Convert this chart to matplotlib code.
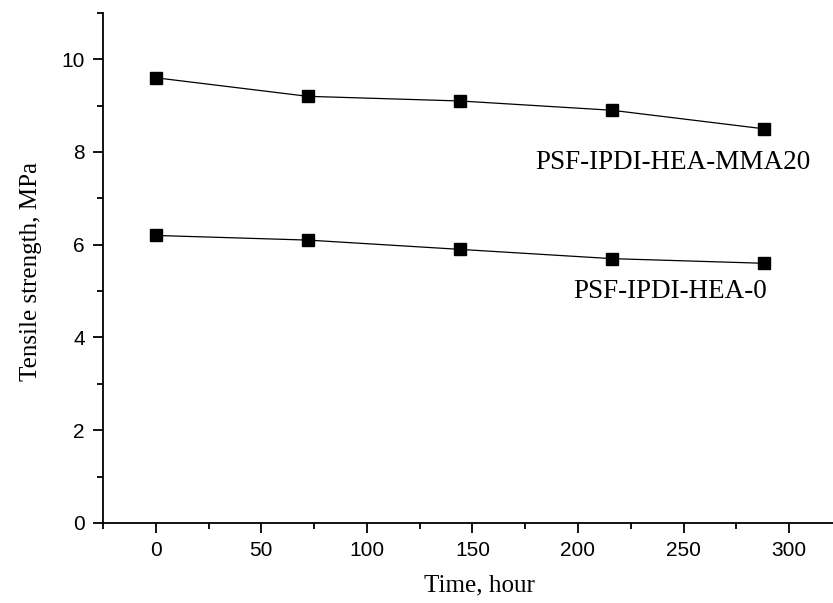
import matplotlib.pyplot as plt
from matplotlib.ticker import MultipleLocator

# data
time_h = [0, 72, 144, 216, 288]
mma20 = [9.6, 9.2, 9.1, 8.9, 8.5]
hea0 = [6.2, 6.1, 5.9, 5.7, 5.6]
labels = ['PSF-IPDI-HEA-MMA20', 'PSF-IPDI-HEA-0']

fig = plt.figure(figsize=(8.33, 6.03), dpi=100)
ax = fig.add_axes([0.1236, 0.1327, 0.887, 0.846])

ax.plot(time_h, mma20, color='black', lw=0.9, marker='s', ms=8.5)
ax.plot(time_h, hea0, color='black', lw=0.9, marker='s', ms=8.5)

ax.text(245, 7.78, labels[0], ha='center', va='center', family='Liberation Serif', fontsize=19.5)
ax.text(243.5, 4.99, labels[1], ha='center', va='center', family='Liberation Serif', fontsize=19.5)

ax.set_xlim(-25, 325)
ax.set_ylim(0, 11)
ax.xaxis.set_major_locator(MultipleLocator(50))
ax.xaxis.set_minor_locator(MultipleLocator(25))
ax.yaxis.set_major_locator(MultipleLocator(2))
ax.yaxis.set_minor_locator(MultipleLocator(1))

for s in ['top', 'right']:
    ax.spines[s].set_visible(False)
for s in ['left', 'bottom']:
    ax.spines[s].set_linewidth(1.3)

ax.tick_params(which='major', direction='out', length=7, width=1.3, labelsize=15, pad=6)
ax.tick_params(which='minor', direction='out', length=4, width=1.3)
for lab in ax.get_xticklabels() + ax.get_yticklabels():
    lab.set_family('Liberation Sans')

ax.set_xlabel('Time, hour', family='Liberation Serif', fontsize=18)
ax.set_ylabel('Tensile strength, MPa', family='Liberation Serif', fontsize=18)
ax.xaxis.set_label_coords(0.51, -0.1)
ax.yaxis.set_label_coords(-0.083, 0.492)

fig.savefig('out.png', dpi=100)
